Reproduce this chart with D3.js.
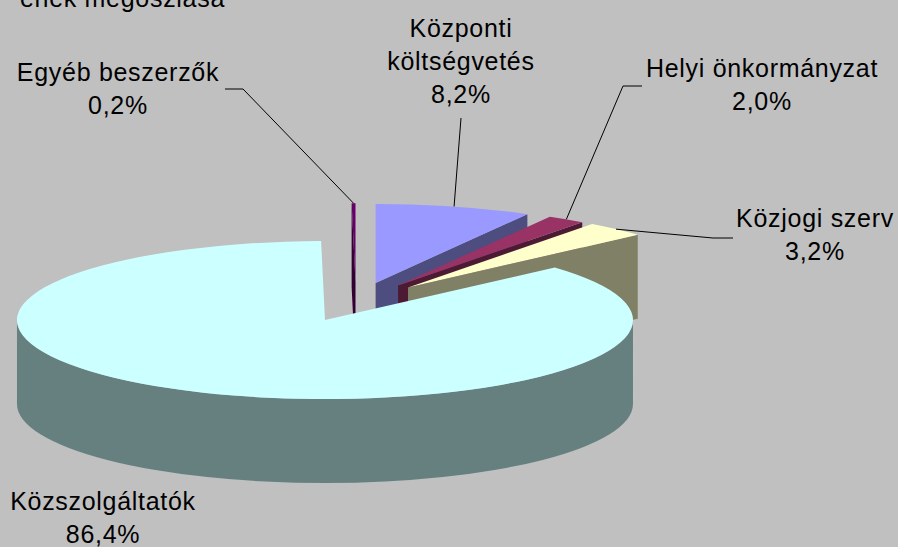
<!DOCTYPE html>
<html lang="hu">
<head>
<meta charset="utf-8">
<title>Beszerzések megoszlása</title>
<script src="https://d3js.org/d3.v7.min.js"></script>
<style>
  html, body { margin: 0; padding: 0; background: #c0c0c0; }
  svg { display: block; }
  text { font-family: Arial, "Liberation Sans", sans-serif; font-size: 25px; letter-spacing: 0.7px; fill: #000; }
</style>
</head>
<body>
<div id="chart"></div>
<script>
// slices in Excel order, clockwise from 12 o'clock
var categories = ["Központi költségvetés", "Helyi önkormányzat", "Közjogi szerv", "Közszolgáltatók", "Egyéb beszerzők"];
var values = [8.2, 2.0, 3.2, 86.4, 0.2];
var titleText = "enek megoszlása";

var topColors  = ["#9999ff", "#993366", "#ffffcc", "#ccffff", "#660066"];
var sideColors = ["#4d4d80", "#4d1a33", "#808066", "#668080", "#330033"];

// label layout: line breaks, centre x, first baseline, elbow points of the leader
var labelLines = [["Központi", "költségvetés"], ["Helyi önkormányzat"], ["Közjogi szerv"], ["Közszolgáltatók"], ["Egyéb beszerzők"]];
var labelPos = [
  {x: 461, y: 37,  leader: [[461, 118]]},
  {x: 762, y: 77,  leader: [[642, 86], [623, 86]]},
  {x: 815, y: 227, leader: [[733, 238], [713, 238]]},
  {x: 103, y: 510, leader: null},
  {x: 118, y: 81,  leader: [[225, 89], [243, 89]]}
];

var W = 898, H = 547;
var cx = 356, cy = 302;      // pie centre
var rx = 308, ry = 79;       // ellipse radii of the top face
var depth = 84;              // thickness
var explode = 0.25;          // explosion (fraction of radius)
var lineGap = 33;

var svg = d3.select("#chart").append("svg")
    .attr("width", W)
    .attr("height", H);

svg.append("rect").attr("width", W).attr("height", H).attr("fill", "#c0c0c0");

var fmt = function(v) { return d3.format(".1f")(v).replace(".", ",") + "%"; };

var arcs = d3.pie().sort(null).value(function(d) { return d; })(values);

// point on the ellipse at angle a (radians, clockwise from top) around (ox, oy)
function pt(ox, oy, a) { return [ox + rx * Math.sin(a), oy - ry * Math.cos(a)]; }

arcs.forEach(function(d, i) {
  var mid = (d.startAngle + d.endAngle) / 2;
  d.mid = mid;
  d.i = i;
  d.ax = cx + explode * rx * Math.sin(mid);
  d.ay = cy - explode * ry * Math.cos(mid);
});

var topArc = d3.arc().innerRadius(0).outerRadius(rx);

// back to front
var order = arcs.slice().sort(function(a, b) { return a.ay - b.ay; });

order.forEach(function(d) {
  var g = svg.append("g");
  var a0 = d.startAngle, a1 = d.endAngle;

  // cut faces
  function cutFace(a) {
    var p = pt(d.ax, d.ay, a);
    return "M" + d.ax + "," + d.ay + "L" + p[0] + "," + p[1] +
      "L" + p[0] + "," + (p[1] + depth) + "L" + d.ax + "," + (d.ay + depth) + "Z";
  }
  if (Math.sin(a0) < -1e-6) g.append("path").attr("d", cutFace(a0)).attr("fill", sideColors[d.i]);
  if (Math.sin(a1) > 1e-6) g.append("path").attr("d", cutFace(a1)).attr("fill", sideColors[d.i]);

  // outer wall, front half only
  var b0 = Math.max(a0, Math.PI / 2), b1 = Math.min(a1, 3 * Math.PI / 2);
  if (b1 > b0) {
    var p0 = pt(d.ax, d.ay, b0), p1 = pt(d.ax, d.ay, b1);
    var wall = "M" + p0[0] + "," + p0[1] +
      "A" + rx + "," + ry + " 0 0 1 " + p1[0] + "," + p1[1] +
      "L" + p1[0] + "," + (p1[1] + depth) +
      "A" + rx + "," + ry + " 0 0 0 " + p0[0] + "," + (p0[1] + depth) + "Z";
    g.append("path").attr("d", wall).attr("fill", sideColors[d.i]);
  }

  // top face
  g.append("g")
      .attr("transform", "translate(" + d.ax + "," + d.ay + ") scale(1," + (ry / rx) + ")")
    .append("path")
      .attr("d", topArc(d))
      .attr("fill", topColors[d.i]);
});

// leader lines
arcs.forEach(function(d) {
  var lp = labelPos[d.i];
  if (!lp.leader) return;
  var end = pt(d.ax, d.ay, d.mid);
  var pts = lp.leader.concat([end]);
  svg.append("path")
      .attr("d", d3.line()(pts))
      .attr("fill", "none")
      .attr("stroke", "#000")
      .attr("stroke-width", 1);
});

// labels
arcs.forEach(function(d) {
  var lp = labelPos[d.i];
  var lines = labelLines[d.i].concat([fmt(values[d.i])]);
  var t = svg.append("text").attr("text-anchor", "middle");
  lines.forEach(function(s, k) {
    t.append("tspan").attr("x", lp.x).attr("y", lp.y + k * lineGap).text(s);
  });
});

// title, cut by the top/left edge
svg.append("text")
    .attr("x", 225)
    .attr("y", 7)
    .attr("text-anchor", "end")
    .text(titleText);
</script>
</body>
</html>
